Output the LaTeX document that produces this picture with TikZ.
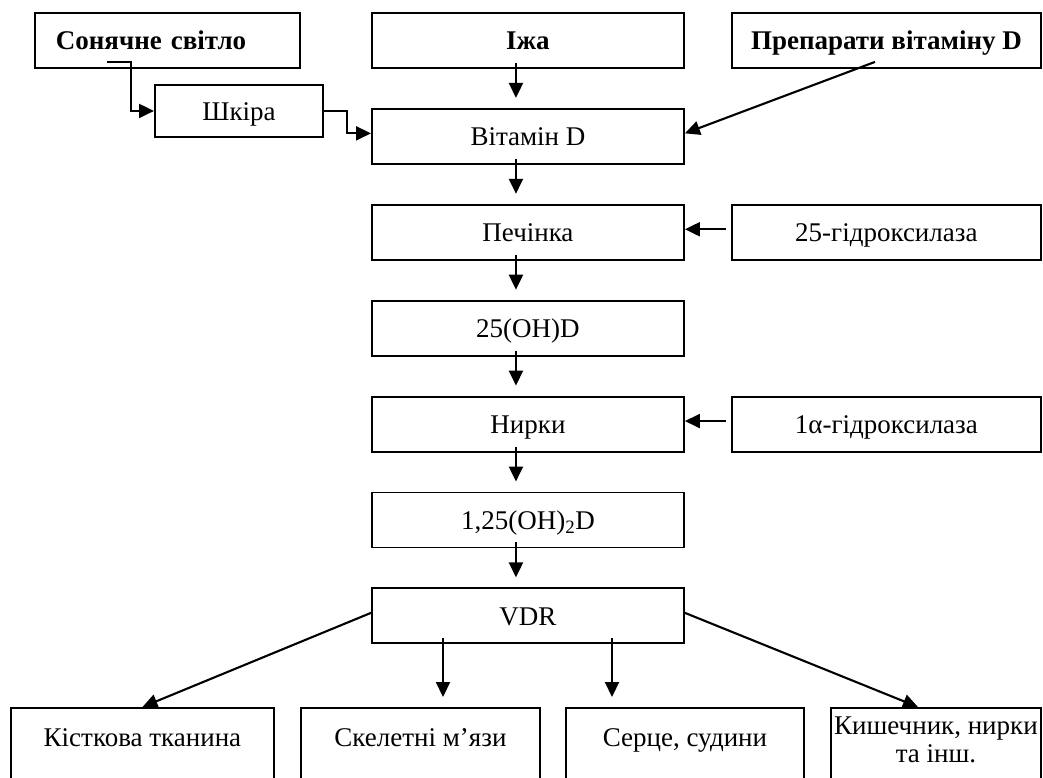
\documentclass[tikz,border=0pt]{standalone}
\usepackage{fontspec}
\setmainfont{Liberation Serif}
\usetikzlibrary{arrows.meta, calc, positioning}
\newcommand{\schemefont}{\fontsize{27pt}{28pt}\selectfont}
\tikzstyle{organ} = [rectangle, draw=black, line width=1.9pt, minimum width=312pt, minimum height=55pt, text centered, inner sep=0pt, text height=22pt, text depth=3pt]
\tikzstyle{source} = [organ, anchor=north west, font=\schemefont\bfseries]
\tikzstyle{enzyme} = [organ, minimum width=309pt]
\tikzstyle{target} = [rectangle, draw=black, line width=1.9pt, anchor=north west, inner sep=0pt, text height=39pt, text depth=62pt]
\tikzstyle{arrow} = [line width=2.1pt, -{Triangle[length=15pt,width=14pt]}]

\begin{document}
\begin{tikzpicture}[x=1pt, y=-1pt, node distance=39pt, font=\schemefont]
  \useasboundingbox (0,0) rectangle (1043,777);
  % top row
  \node (sun) [source, minimum width=265pt, text width=223pt, align=left] at (34,12) {Сонячне світло};
  \node (food) [source] at (371,12) {Іжа};
  \node (drugs) [source, minimum width=309pt] at (731,12) {Препарати вітаміну D};
  \node (skin) [organ, anchor=north west, minimum width=168pt, minimum height=52pt] at (154,84) {Шкіра};
  % central column
  \node (vitd) [organ, below=of food] {Вітамін D};
  \node (liver) [organ, below=of vitd] {Печінка};
  \node (calcidiol) [organ, below=of liver] {25(OH)D};
  \node (kidney) [organ, below=of calcidiol] {Нирки};
  \node (calcitriol) [organ, below=of kidney] {1,25(OH)\textsubscript{2}D};
  \node (vdr) [organ, below=of calcitriol] {VDR};
  \node (hydr25) [enzyme, right=46pt of liver] {25-гідроксилаза};
  \node (hydr1a) [enzyme, right=46pt of kidney] {1α-гідроксилаза};
  % targets
  \node (bone) [target, minimum width=263pt] at (10,707) {Кісткова тканина};
  \node (muscle) [target, minimum width=239pt] at (300,707) {Скелетні м’язи};
  \node (heart) [target, minimum width=238pt] at (565,707) {Серце, судини};
  \node (gut) [target, minimum width=210pt, text height=27pt] at (830,707) {\begin{tabular}[t]{@{}c@{}}Кишечник, нирки\\та інш.\end{tabular}};

  \draw[arrow] ($(sun.south west)+(73,-7)$) -| ($(skin.west)+(-23,0)$) -- (skin.west);
  \draw[arrow] (skin.east) -| ($(vitd.west)+(-24,-3)$) -- ($(vitd.west)+(0,-3)$);
  \draw[arrow] ($(drugs.south west)+(144,-7)$) -- ($(vitd.east)+(0,-3)$);
  \foreach \a/\b in {food/vitd, vitd/liver, liver/calcidiol, calcidiol/kidney, kidney/calcitriol, calcitriol/vdr}
    \draw[arrow] ($(\a.south)+(-12,-6)$) -- ($(\b.north)+(-12,-10)$);
  \draw[arrow] ($(hydr25.west)+(-5,-3)$) -- ($(liver.east)+(0,-3)$);
  \draw[arrow] ($(hydr1a.west)+(-5,-3)$) -- ($(kidney.east)+(0,-3)$);
  \draw[arrow] ($(vdr.west)+(0,-3)$) -- (bone.north);
  \draw[arrow] ($(vdr.south west)+(72,-6)$) -- ($(muscle.north west)+(143,-10)$);
  \draw[arrow] ($(vdr.south west)+(241,-6)$) -- ($(heart.north west)+(47,-10)$);
  \draw[arrow] ($(vdr.east)+(0,-3)$) -- ($(gut.north)+(-18,0)$);
\end{tikzpicture}
\end{document}
